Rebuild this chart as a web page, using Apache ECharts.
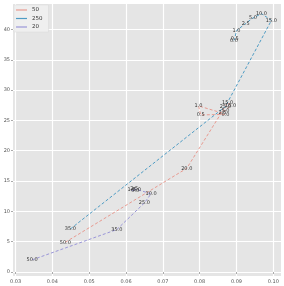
<!DOCTYPE html>
<html><head><meta charset="utf-8">
<script src="https://cdn.jsdelivr.net/npm/echarts@6/dist/echarts.min.js"></script>
<style>html,body{margin:0;padding:0;background:#fff}#c{width:284px;height:286px}</style>
</head><body><div id="c"></div>
<script>
const xTicks = [0.03, 0.04, 0.05, 0.06, 0.07, 0.08, 0.09, 0.10];
const yTicks = [0, 5, 10, 15, 20, 25, 30, 35, 40];
const seriesNames = ['50', '250', '20'];

// series "50"
const s50x = [0.0435, 0.0765, 0.0876, 0.0884, 0.0870, 0.0862, 0.0797, 0.0803, 0.0870];
const s50y = [4.9, 17.1, 27.9, 27.5, 26.6, 26.2, 27.4, 25.9, 26.0];
const s50l = ['50.0', '20.0', '15.0', '10.0', '5.0', '2.5', '1.0', '0.5', '0.0'];

// series "250"
const s250x = [0.0449, 0.0870, 0.0995, 0.0968, 0.0945, 0.0925, 0.0900, 0.0895, 0.0893];
const s250y = [7.1, 27.3, 41.5, 42.6, 41.9, 41.0, 39.8, 38.4, 38.2];
const s250l = ['35.0', '25.0', '15.0', '10.0', '5.0', '2.5', '1.0', '0.5', '0.0'];

// series "20"
const s20x = [0.0345, 0.0575, 0.0650, 0.0668, 0.0630, 0.0622, 0.0615, 0.0625];
const s20y = [2.0, 7.0, 11.4, 12.9, 13.6, 13.7, 13.5, 13.4];
const s20l = ['50.0', '35.0', '25.0', '10.0', '5.0', '2.5', '1.0', '0.0'];

const colors = ['#e89a90', '#4f9cc4', '#9a96d8'];

function mk(name, xs, ys, ls, color) {
  return {
    name: name, type: 'line',
    data: xs.map((x, i) => [x, ys[i]]),
    symbol: 'circle', symbolSize: 1,
    itemStyle: { color: 'rgba(0,0,0,0)' },
    lineStyle: { color: color, width: 1, type: [3, 2] },
    label: { show: true, position: 'inside', fontSize: 5, color: '#333',
      fontFamily: 'DejaVu Sans', formatter: p => ls[p.dataIndex] },
    labelLayout: { hideOverlap: false },
    emphasis: { disabled: true }, animation: false
  };
}

const chart = echarts.init(document.getElementById('c'), null, { renderer: 'canvas' });
const axisCommon = {
  axisLine: { show: false },
  axisTick: { show: true, length: 2, lineStyle: { color: '#555', width: 0.5 } },
  splitLine: { show: true, lineStyle: { color: '#ffffff', width: 1.2 } },
  axisLabel: { fontSize: 5, color: '#555', fontFamily: 'DejaVu Sans', margin: 3 },
  nameTextStyle: { fontSize: 5, color: '#555', fontFamily: 'DejaVu Sans' }
};
chart.setOption({
  animation: false,
  backgroundColor: '#ffffff',
  grid: { left: 13, right: 3, top: 4, bottom: 10, containLabel: false, outerBoundsMode: 'none',
    show: true, backgroundColor: '#e5e5e5', borderWidth: 0 },
  legend: {
    data: seriesNames.map((n, i) => ({ name: n, itemStyle: { color: colors[i] } })),
    orient: 'vertical', left: 14, top: 5,
    icon: 'rect', itemWidth: 11, itemHeight: 1.2, itemGap: 2.5,
    textStyle: { fontSize: 5.5, color: '#333', fontFamily: 'DejaVu Sans' },
    backgroundColor: '#efefef', borderColor: '#d8d8d8', borderWidth: 0.5, padding: [2, 6, 2, 2]
  },
  xAxis: Object.assign({}, axisCommon, {
    type: 'value', min: 0.0293, max: 0.1021,
    name: 'recall', nameLocation: 'middle', nameGap: 8,
    axisTick: Object.assign({}, axisCommon.axisTick, { customValues: xTicks }),
    axisLabel: Object.assign({}, axisCommon.axisLabel, { customValues: xTicks, formatter: v => v.toFixed(2) })
  }),
  yAxis: Object.assign({}, axisCommon, {
    type: 'value', min: -0.66, max: 44.2,
    name: 'coverage [%]', nameLocation: 'middle', nameGap: 8,
    axisTick: Object.assign({}, axisCommon.axisTick, { customValues: yTicks }),
    axisLabel: Object.assign({}, axisCommon.axisLabel, { customValues: yTicks, formatter: v => String(Math.round(v)) })
  }),
  series: [
    mk(seriesNames[0], s50x, s50y, s50l, colors[0]),
    mk(seriesNames[1], s250x, s250y, s250l, colors[1]),
    mk(seriesNames[2], s20x, s20y, s20l, colors[2])
  ]
});
</script></body></html>
